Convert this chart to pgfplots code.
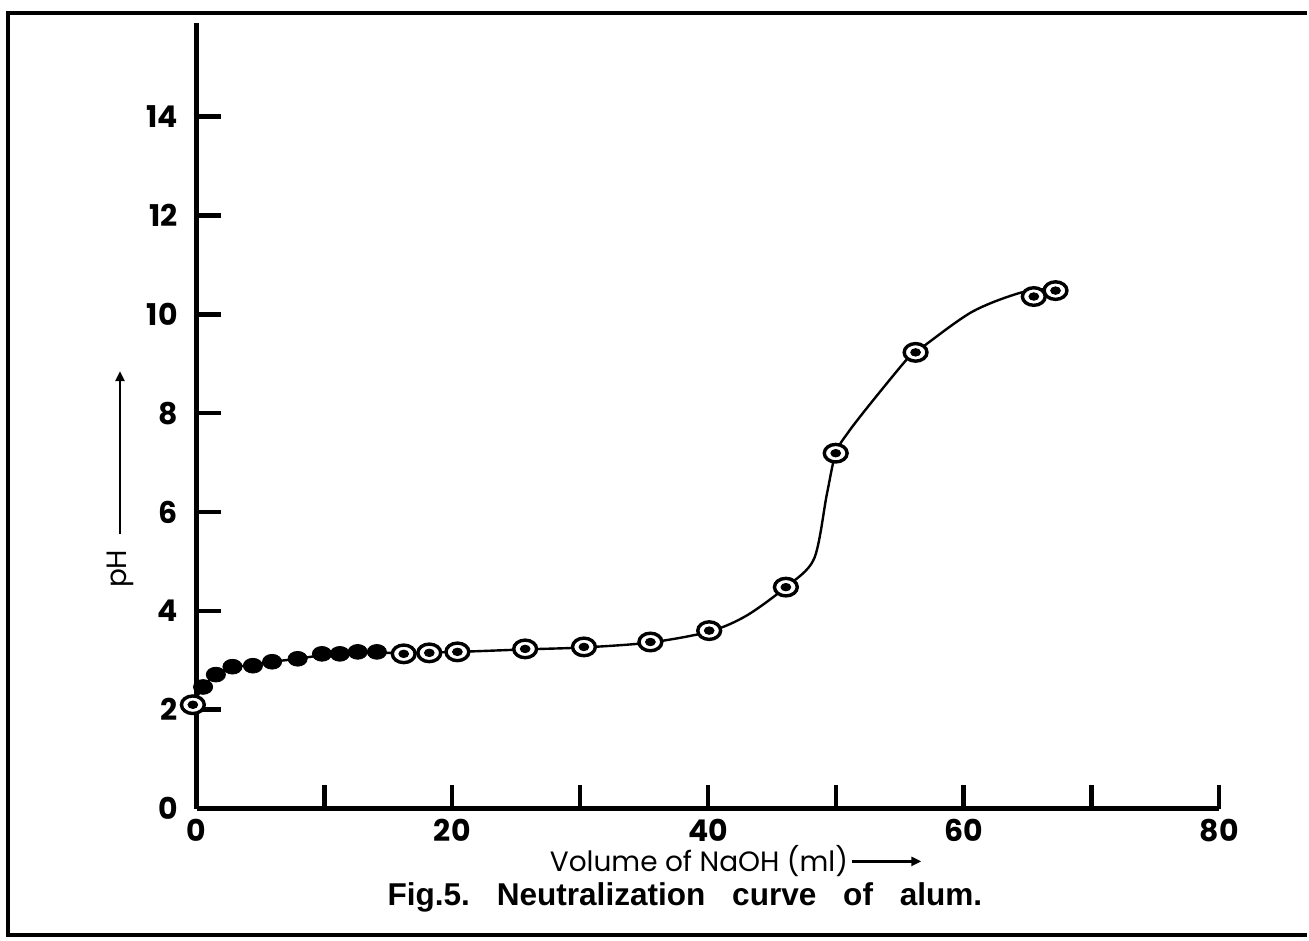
\documentclass[border=0pt]{standalone}
\usepackage{pgfplots}
\pgfplotsset{compat=1.18}
\usepackage{pgfplotstable}
\usepackage{fontspec}
\setmainfont{Liberation Sans}
\newfontfamily\pop{Poppins}
\usetikzlibrary{arrows.meta}

\pgfplotstableread{
x y
-0.3 2.10
0.5 2.46
1.5 2.71
2.8 2.85
4.4 2.91
5.9 2.97
7.9 3.03
9.8 3.10
12.6 3.15
16.2 3.15
20.4 3.17
25.7 3.22
30.3 3.26
35.5 3.36
40.1 3.58
43.0 3.90
46.1 4.48
48.3 5.05
49.3 6.35
50.0 7.19
51.0 7.62
52.8 8.22
55.5 9.07
56.25 9.23
60.6 10.04
64.5 10.44
67.2 10.52
}\curvedata

\pgfplotstableread{
x y
0.5 2.46
1.5 2.71
2.8 2.87
4.4 2.89
5.9 2.97
7.9 3.03
9.8 3.13
11.2 3.13
12.6 3.17
14.1 3.17
}\filleddata

\pgfplotstableread{
x y
-0.3 2.10
16.2 3.13
18.2 3.15
20.4 3.17
25.7 3.23
30.3 3.27
35.5 3.37
40.1 3.60
46.1 4.48
50.0 7.19
56.25 9.23
65.5 10.36
67.2 10.48
}\opendata

\begin{document}
\begin{tikzpicture}
\begin{axis}[
  scale only axis, width=512pt, height=393.5pt,
  xmin=0, xmax=80, ymin=0, ymax=15.9,
  axis lines=left, axis line style={-, line width=2.2pt},
  clip=false,
  xtick={0,10,...,80}, xticklabels={0,,20,,40,,60,,80},
  ytick={0,2,...,14},
  tick align=inside, major tick length=12pt,
  tick style={line width=2.2pt, black},
  /pgf/number format/assume math mode=true,
  ticklabel style={font=\pop\bfseries\fontsize{15}{17}\selectfont},
  xticklabel style={yshift=-2pt},
  yticklabel style={xshift=-6pt},
]
\path (axis cs:-15.39,16.36) rectangle (axis cs:86.875,-2.667);
\addplot[black, line width=1.2pt, smooth, tension=0.5, no markers] table {\curvedata};
\addplot[only marks, mark=*, mark size=3.7pt, mark options={xscale=1.3, fill=black, draw=black}] table {\filleddata};
\addplot[only marks, mark=*, mark size=4.4pt, mark options={xscale=1.3, fill=white, draw=black, line width=1.7pt}] table {\opendata};
\addplot[only marks, mark=*, mark size=1.9pt, mark options={xscale=1.3, fill=black, draw=black}] table {\opendata};

\node[font=\pop\fontsize{14}{16}\selectfont, anchor=center] at (axis cs:39.3,-1.07) {Volume of NaOH (ml)};
\draw[line width=1.3pt, -{Triangle[length=5pt,width=4.5pt]}] (axis cs:51.25,-1.07) -- (axis cs:56.7,-1.07);
\node[font=\pop\fontsize{14}{16}\selectfont, rotate=90, anchor=center] at (axis cs:-6.0,4.85) {pH};
\draw[line width=1.3pt, -{Triangle[length=5pt,width=4.5pt]}] (axis cs:-6.0,5.56) -- (axis cs:-6.0,8.85);
\node[font=\bfseries\fontsize{15.8}{18}\selectfont, anchor=base] at (axis cs:38.2,-1.96) {Fig.5.\hspace{0.85em}Neutralization\hspace{0.85em}curve\hspace{0.85em}of\hspace{0.85em}alum.};
\draw[line width=2pt] (axis cs:86.875,16.10) -- (axis cs:-14.77,16.10) -- (axis cs:-14.77,-2.566) -- (axis cs:86.875,-2.566);
\end{axis}
\end{tikzpicture}
\end{document}
